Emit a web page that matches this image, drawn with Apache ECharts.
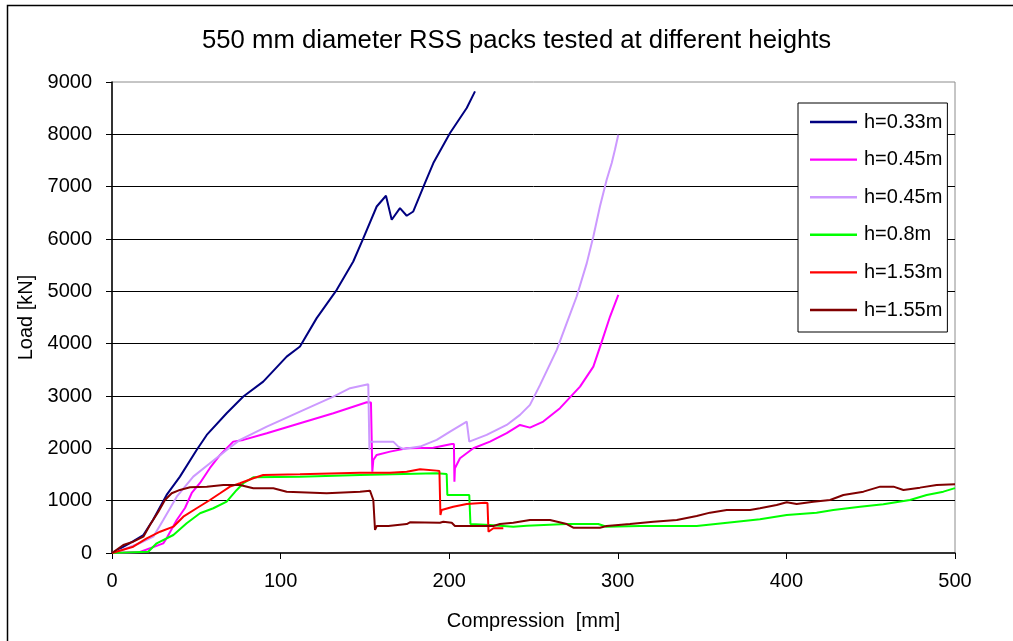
<!DOCTYPE html>
<html>
<head>
<meta charset="utf-8">
<script src="https://cdn.jsdelivr.net/npm/echarts@6/dist/echarts.min.js"></script>
<style>
  html, body { margin: 0; padding: 0; background: #fff; }
  #chart { width: 1013px; height: 641px; }
</style>
</head>
<body>
<div id="chart"></div>
<script>
// Load–compression curves, [compression mm, load kN]
const seriesNames = ['h=0.33m', 'h=0.45m', 'h=0.45m', 'h=0.8m', 'h=1.53m', 'h=1.55m'];
const seriesColors = ['#000080', '#FF00FF', '#CC99FF', '#00FF00', '#FF0000', '#800000'];

const h033 = [[0,0],[0.8,25],[10.7,191],[18.6,344],[24.3,631],[32.4,1109],[40.3,1459],[50.2,1969],[56.2,2256],[68.0,2671],[77.9,2989],[89.7,3275],[103.6,3753],[111.5,3945],[121.4,4488],[133.3,5029],[143.1,5570],[149.1,6017],[157.0,6621],[162.5,6826],[165.9,6367],[170.8,6591],[174.8,6444],[178.7,6526],[185.6,7069],[190.6,7451],[200.5,8025],[210.4,8503],[215.3,8820]];

const h045a = [[0,0],[16.6,20],[30.4,185],[32.4,281],[38.4,631],[43.3,860],[47.3,1147],[52.2,1338],[58.1,1625],[64.1,1874],[71.9,2128],[77.9,2161],[91.8,2289],[111.5,2480],[131.3,2671],[151.1,2881],[153.6,2874],[154.4,1554],[155.0,1778],[157.0,1874],[164.9,1937],[174.8,2002],[190.6,2013],[201.5,2084],[202.8,2084],[203.1,1363],[203.4,1620],[206.4,1811],[214.3,2002],[224.2,2128],[234.1,2289],[242.0,2447],[247.9,2396],[255.8,2511],[265.7,2767],[277.6,3180],[285.5,3562],[290.5,4040],[295.4,4518],[300.3,4933]];

const h045b = [[0,0],[7.7,76],[16.6,191],[24.5,312],[30.4,631],[38.4,1076],[48.2,1459],[58.1,1715],[68.0,1969],[75.9,2161],[91.8,2415],[111.5,2702],[131.3,2989],[141.2,3149],[152.0,3226],[152.6,3226],[152.7,1969],[152.7,2128],[166.8,2128],[169.8,2033],[172.8,1989],[182.7,2033],[192.6,2161],[200.5,2319],[210.4,2511],[211.0,2511],[211.9,2128],[222.2,2256],[234.1,2447],[242.0,2639],[247.9,2830],[253.9,3212],[263.8,3881],[269.7,4392],[275.6,4901],[281.6,5539],[285.5,6048],[289.4,6621],[293.4,7132],[296.4,7451],[298.3,7706],[300.3,7992]];

const h080 = [[0,0],[21.5,25],[26.5,185],[36.4,344],[44.3,568],[52.2,759],[60.1,855],[68.0,981],[74.0,1205],[77.9,1333],[83.8,1447],[111.5,1459],[147.1,1491],[192.6,1524],[198.5,1511],[198.9,1109],[211.9,1109],[212.6,554],[224.2,535],[238.0,503],[246.0,522],[269.7,554],[288.4,554],[293.4,503],[313.2,516],[346.8,516],[370.5,598],[384.3,644],[400.2,727],[417.9,771],[427.8,822],[443.7,885],[457.5,931],[473.3,1013],[483.2,1109],[493.1,1172],[500,1240]];

const h153 = [[0,0],[12.6,120],[20.6,281],[28.5,407],[36.4,503],[42.3,694],[50.2,855],[58.1,1013],[64.1,1141],[70.0,1268],[75.9,1333],[83.8,1428],[89.7,1491],[111.5,1505],[147.1,1535],[164.9,1535],[174.8,1554],[182.7,1600],[192.6,1574],[194.2,1568],[194.8,727],[195.5,822],[202.4,885],[210.4,937],[221.2,962],[222.7,956],[223.3,407],[226.2,472],[232.1,472]];

const h155 = [[0,0],[6.7,153],[12.6,216],[18.6,312],[22.5,535],[27.5,790],[31.4,1013],[35.4,1141],[40.3,1205],[46.3,1256],[56.2,1268],[66.0,1300],[75.9,1300],[83.8,1237],[95.7,1237],[103.6,1172],[127.3,1141],[147.1,1172],[153.0,1191],[155.0,1013],[156.0,440],[157.0,516],[163.9,516],[164.9,554],[174.8,554],[176.7,587],[194.5,579],[196.5,598],[201.5,579],[203.4,516],[226.2,516],[230.1,554],[238.0,579],[247.9,631],[259.8,631],[269.7,554],[273.6,484],[289.4,484],[293.4,516],[307.2,554],[321.1,598],[335.0,631],[346.8,707],[354.7,771],[364.6,822],[378.4,822],[384.3,855],[394.2,918],[400.2,969],[406.1,937],[416.0,981],[425.9,1013],[433.8,1109],[445.7,1172],[455.6,1268],[463.5,1268],[469.4,1205],[479.2,1249],[489.1,1300],[500,1314]];

const seriesData = [h033, h045a, h045b, h080, h153, h155];

const xTicks = { min: 0, max: 500, interval: 100 };
const yTicks = { min: 0, max: 9000, interval: 1000 };

const FONT = '"Liberation Sans", Arial, sans-serif';

const chart = echarts.init(document.getElementById('chart'), null, { renderer: 'canvas' });

chart.setOption({
  animation: false,
  backgroundColor: '#ffffff',
  textStyle: { fontFamily: FONT, color: '#000' },
  title: {
    text: '550 mm diameter RSS packs tested at different heights',
    left: 202,
    top: 28,
    padding: 0,
    textStyle: { fontFamily: FONT, fontSize: 25.7, fontWeight: 'normal', color: '#000' }
  },
  graphic: [{
    type: 'rect',
    shape: { x: 7.5, y: 5.5, width: 1020, height: 650 },
    style: { fill: 'none', stroke: '#000', lineWidth: 1.5 },
    silent: true,
    z: -1
  }],
  grid: {
    left: 112, right: 58, top: 82, bottom: 88,
    show: true, borderColor: '#8c8c8c', borderWidth: 1, backgroundColor: '#fff'
  },
  legend: {
    orient: 'vertical',
    left: 798, top: 103,
    padding: [9, 5, 12, 12],
    itemWidth: 47, itemHeight: 20, itemGap: 17.6,
    borderColor: '#000', borderWidth: 1,
    backgroundColor: '#fff',
    textStyle: { fontFamily: FONT, fontSize: 20, color: '#000', padding: [0, 0, 0, 2] },
    data: seriesNames.map((n, i) => ({ name: n + (i === 2 ? ' ' : ''), icon: 'path://M0,0 L47,0 L47,2.4 L0,2.4 Z', itemStyle: { color: seriesColors[i] } })),
    formatter: n => n.trim()
  },
  xAxis: {
    type: 'value',
    min: xTicks.min, max: xTicks.max, interval: xTicks.interval,
    name: 'Compression  [mm]',
    nameLocation: 'middle', nameGap: 58,
    nameTextStyle: { fontFamily: FONT, fontSize: 20, color: '#000' },
    axisLine: { show: true, onZero: false, lineStyle: { color: '#000', width: 1.5 } },
    axisTick: { show: true, inside: false, length: 6, lineStyle: { color: '#000' } },
    axisLabel: { fontFamily: FONT, fontSize: 20, color: '#000', margin: 18 },
    splitLine: { show: false }
  },
  yAxis: {
    type: 'value',
    min: yTicks.min, max: yTicks.max, interval: yTicks.interval,
    name: 'Load [kN]',
    nameLocation: 'middle', nameGap: 64,
    nameTextStyle: { fontFamily: FONT, fontSize: 20, color: '#000' },
    axisLine: { show: true, onZero: false, lineStyle: { color: '#000', width: 1.5 } },
    axisTick: { show: true, inside: false, length: 6, lineStyle: { color: '#000' } },
    axisLabel: { fontFamily: FONT, fontSize: 20, color: '#000', margin: 20, formatter: v => String(v) },
    splitLine: { show: true, showMinLine: false, showMaxLine: false, lineStyle: { color: '#000', width: 1 } }
  },
  series: seriesData.map((d, i) => ({
    type: 'line',
    name: seriesNames[i] + (i === 2 ? ' ' : ''),
    data: d,
    symbol: 'none',
    showSymbol: false,
    clip: true,
    lineStyle: { color: seriesColors[i], width: 2 },
    itemStyle: { color: seriesColors[i] },
    z: 2 + i
  }))
});
</script>
</body>
</html>
